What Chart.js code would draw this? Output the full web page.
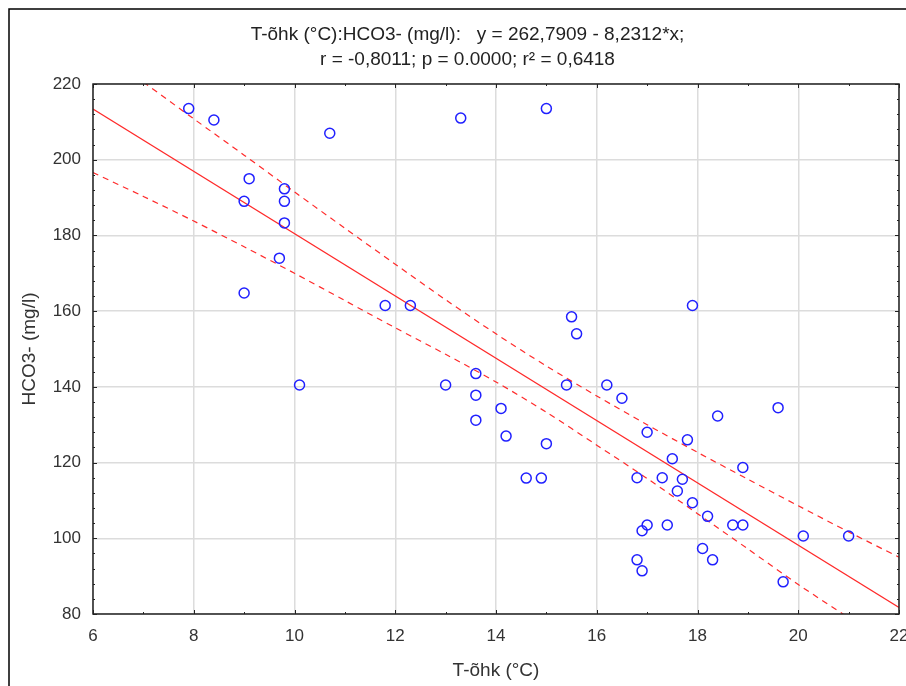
<!DOCTYPE html>
<html lang="et">
<head>
<meta charset="UTF-8">
<title>T-õhk : HCO3-</title>
<script src="https://cdn.jsdelivr.net/npm/chart.js"></script>
<style>
  html, body { margin: 0; padding: 0; background: #fff; }
</style>
</head>
<body>
<canvas id="scatterChart" width="906" height="686"></canvas>
<script>
// mõõtmised: õhutemperatuur (°C) ja HCO3- (mg/l)
var tempX = [7.9, 8.4, 10.7, 9.1, 9.8, 9.0, 9.8, 9.8, 9.7, 9.0,
             10.1, 11.8, 12.3, 13.3, 15.0, 13.0, 13.6, 13.6, 13.6, 14.1,
             14.2, 14.6, 14.9, 15.0, 15.5, 15.6, 15.4, 16.2, 16.5, 17.0,
             17.8, 17.9, 18.4, 19.6, 17.5, 18.9, 16.8, 17.3, 17.7, 17.6,
             17.9, 18.2, 17.0, 16.9, 17.4, 18.7, 18.9, 20.1, 21.0, 18.1,
             18.3, 16.8, 16.9, 19.7];
var hco3Y = [213.5, 210.5, 207, 195, 192.3, 189, 189, 183.3, 174, 164.8,
             140.5, 161.5, 161.5, 211, 213.5, 140.5, 143.5, 137.8, 131.2, 134.3,
             127, 115.9, 115.9, 125, 158.5, 154, 140.5, 140.5, 137, 128,
             126, 161.5, 132.3, 134.5, 121, 118.7, 116, 116, 115.6, 112.5,
             109.4, 105.8, 103.5, 102, 103.5, 103.5, 103.5, 100.6, 100.6, 97.3,
             94.3, 94.3, 91.4, 88.5];

// regressioonisirge otspunktid
var regX = [6, 22];
var regY = [213.4, 81.7];

// 95% usalduspiirid (loetud jooniselt)
var bandX = [6, 7, 8, 9, 10, 11, 12, 13, 14, 15, 16, 17, 18, 19, 20, 21, 22];
var upperY = [null, 220.5, 210.8, 201.2, 191.5, 181.9, 172.4, 163, 154, 145.5, 137.6, 130, 122.7, 115.6, 108.6, 101.7, 95];
var lowerY = [196.6, 190.3, 183.8, 177, 170, 162.8, 155.6, 148.6, 141.3, 133.3, 124.6, 115.8, 106.5, 97.2, 87.8, 79, null];

var xTickValues = [6, 8, 10, 12, 14, 16, 18, 20, 22];
var yTickValues = [80, 100, 120, 140, 160, 180, 200, 220];

var titleLines = [
  'T-õhk (°C):HCO3- (mg/l):   y = 262,7909 - 8,2312*x;',
  'r = -0,8011; p = 0.0000; r² = 0,6418'
];

function pairs(xs, ys) {
  var out = [];
  for (var i = 0; i < xs.length; i++) {
    if (ys[i] !== null) out.push({ x: xs[i], y: ys[i] });
  }
  return out;
}

var FONT = "'Liberation Sans', Arial, sans-serif";

// raam, kasti ülemine/parem serv ja sissepoole suunatud kriipsud
var frameAndTicks = {
  id: 'frameAndTicks',
  afterLayout: function(chart) {
    // pealkiri on originaalis veidi paremal
    if (chart.titleBlock) chart.titleBlock.left += 36;
  },
  beforeDraw: function(chart) {
    var ctx = chart.ctx;
    ctx.save();
    ctx.fillStyle = '#fff';
    ctx.fillRect(0, 0, chart.width, chart.height);
    ctx.restore();
  },
  afterDraw: function(chart) {
    var ctx = chart.ctx, a = chart.chartArea;
    var xs = chart.scales.x, ys = chart.scales.y;
    ctx.save();
    ctx.strokeStyle = '#000';
    ctx.lineWidth = 1.5;
    ctx.beginPath();
    ctx.moveTo(9, chart.height);
    ctx.lineTo(9, 9);
    ctx.lineTo(chart.width, 9);
    ctx.stroke();

    ctx.strokeStyle = '#222';
    ctx.strokeRect(a.left, a.top, a.right - a.left, a.bottom - a.top);

    ctx.lineWidth = 1;
    ctx.beginPath();
    for (var v = xs.min; v <= xs.max; v += 1) {
      var len = (v % 2 === 0) ? 4 : 2;
      var px = Math.round(xs.getPixelForValue(v)) + 0.5;
      ctx.moveTo(px, a.bottom); ctx.lineTo(px, a.bottom - len);
      ctx.moveTo(px, a.top); ctx.lineTo(px, a.top + len);
    }
    for (var w = ys.min; w <= ys.max; w += 4) {
      var l2 = ((w - 80) % 20 === 0) ? 4 : 2;
      var py = Math.round(ys.getPixelForValue(w)) + 0.5;
      ctx.moveTo(a.left, py); ctx.lineTo(a.left + l2, py);
      ctx.moveTo(a.right, py); ctx.lineTo(a.right - l2, py);
    }
    ctx.stroke();
    ctx.restore();
  }
};

var ctx = document.getElementById('scatterChart').getContext('2d');
var chart = new Chart(ctx, {
  type: 'scatter',
  data: {
    datasets: [
      {
        label: 'HCO3-',
        data: pairs(tempX, hco3Y),
        pointStyle: 'circle',
        pointRadius: 5,
        pointHoverRadius: 5,
        borderColor: '#2020ff',
        borderWidth: 1.5,
        backgroundColor: 'rgba(0,0,0,0)',
        order: 0
      },
      {
        label: 'regressioon',
        type: 'line',
        data: pairs(regX, regY),
        borderColor: '#ff2a2a',
        borderWidth: 1.2,
        pointRadius: 0,
        fill: false,
        order: 1
      },
      {
        label: 'ülemine piir',
        type: 'line',
        data: pairs(bandX, upperY),
        borderColor: '#ff2a2a',
        borderWidth: 1.2,
        borderDash: [6, 5],
        pointRadius: 0,
        tension: 0.3,
        fill: false,
        order: 2
      },
      {
        label: 'alumine piir',
        type: 'line',
        data: pairs(bandX, lowerY),
        borderColor: '#ff2a2a',
        borderWidth: 1.2,
        borderDash: [6, 5],
        pointRadius: 0,
        tension: 0.3,
        fill: false,
        order: 3
      }
    ]
  },
  options: {
    responsive: false,
    animation: false,
    devicePixelRatio: 1,
    layout: { padding: { left: 0, right: 7, top: 0, bottom: 0 } },
    plugins: {
      legend: { display: false },
      tooltip: { enabled: false },
      title: {
        display: true,
        text: titleLines,
        color: '#222',
        font: { family: FONT, size: 19, weight: 'normal', lineHeight: '25px' },
        padding: { top: 22, bottom: 12 }
      }
    },
    scales: {
      x: {
        type: 'linear',
        min: 6,
        max: 22,
        afterBuildTicks: function(s) { s.ticks = xTickValues.map(function(v) { return { value: v }; }); },
        afterFit: function(s) { s.height = 72; s.paddingLeft = 0; s.paddingRight = 0; },
        grid: { color: '#dcdcdc', lineWidth: 1.5, drawTicks: false },
        border: { display: false },
        ticks: { color: '#333', padding: 12, font: { family: FONT, size: 17 }, maxRotation: 0 },
        title: {
          display: true,
          text: 'T-õhk (°C)',
          color: '#333',
          font: { family: FONT, size: 19 },
          padding: { top: 0, bottom: 4 }
        }
      },
      y: {
        type: 'linear',
        min: 80,
        max: 220,
        afterBuildTicks: function(s) { s.ticks = yTickValues.map(function(v) { return { value: v }; }); },
        afterFit: function(s) { s.width = 93; s.paddingTop = 0; s.paddingBottom = 0; },
        grid: { color: '#dcdcdc', lineWidth: 1.5, drawTicks: false },
        border: { display: false },
        ticks: { color: '#333', padding: 12, font: { family: FONT, size: 17 } },
        title: {
          display: true,
          text: 'HCO3- (mg/l)',
          color: '#333',
          font: { family: FONT, size: 19 },
          padding: { top: 18, bottom: 0 }
        }
      }
    }
  },
  plugins: [frameAndTicks]
});
</script>
</body>
</html>
